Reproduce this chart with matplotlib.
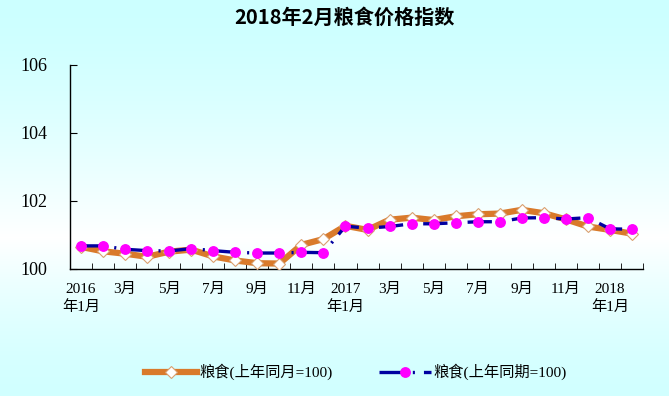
import numpy as np
import matplotlib
matplotlib.use('Agg')
from matplotlib import pyplot as plt

plt.rcParams['font.family'] = ['Liberation Serif', 'Noto Sans CJK SC']
plt.rcParams['lines.scale_dashes'] = False

# monthly index, Jan 2016 .. Feb 2018
months = list(range(26))
tick_labels = ['2016\n年1月', '3月', '5月', '7月', '9月', '11月',
               '2017\n年1月', '3月', '5月', '7月', '9月', '11月',
               '2018\n年1月']

same_month = [100.65, 100.52, 100.45, 100.36, 100.51, 100.57, 100.37, 100.25,
              100.17, 100.16, 100.71, 100.88, 101.27, 101.15, 101.45, 101.51,
              101.44, 101.55, 101.61, 101.63, 101.74, 101.64, 101.46, 101.25,
              101.15, 101.04]
same_period = [100.68, 100.68, 100.58, 100.54, 100.53, 100.60, 100.54, 100.49,
               100.47, 100.47, 100.49, 100.48, 101.26, 101.20, 101.25, 101.33,
               101.33, 101.36, 101.39, 101.39, 101.50, 101.51, 101.47, 101.51,
               101.18, 101.17]

orange = '#D97A2B'
navy = '#0000A0'
pink = '#FF00FF'

fig = plt.figure(figsize=(6.69, 3.96), dpi=100)

# background gradient: cyan top, white middle, light cyan bottom
bg = fig.add_axes([0, 0, 1, 1], zorder=-10)
rows = np.linspace(0, 1, 396)
mid = 0.6
w = np.where(rows < mid, rows / mid, 1 - (rows - mid) / (1 - mid))
top = np.array([0.80, 1.0, 1.0])
bot = np.array([0.82, 1.0, 1.0])
white = np.array([1.0, 1.0, 1.0])
grad = np.zeros((396, 1, 3))
for i in range(396):
    base = top if rows[i] < mid else bot
    grad[i, 0] = base + (white - base) * (w[i] ** 1.5)
bg.imshow(grad, aspect='auto', extent=[0, 1, 0, 1])
bg.axis('off')

ax = fig.add_axes([70 / 669, 1 - 269 / 396, 573 / 669, 204 / 396])
ax.set_facecolor('none')

ax.plot(months, same_month, color=orange, lw=4.5, marker='D', ms=6.5,
        mfc='white', mec='#D9A070', mew=0.8, zorder=3,
        label='粮食(上年同月=100)')
ax.plot(months, same_period, color=navy, lw=2.4, ls=(0, (17.5, 6.5, 1.5, 6.5)),
        dash_capstyle='butt', marker='o', ms=6.8, mfc=pink, mec=pink,
        zorder=4, label='粮食(上年同期=100)')

ax.set_xlim(-0.5, 25.5)
ax.set_ylim(100, 106)
ax.set_yticks([100, 102, 104, 106])
ax.tick_params(axis='y', direction='in', length=5, pad=16, labelsize=13,
               color='black')
ax.set_xticks(months[::2])
ax.set_xticklabels(tick_labels, linespacing=1.35)
ax.set_xticks(np.arange(0.5, 26, 1), minor=True)
ax.tick_params(axis='x', which='major', length=0, pad=10, labelsize=11)
ax.tick_params(axis='x', which='minor', direction='in', length=4)

for s in ['top', 'right']:
    ax.spines[s].set_visible(False)
for s in ['left', 'bottom']:
    ax.spines[s].set_linewidth(1)

fig.text(0.515, 1 - 17 / 396, '2018年2月粮食价格指数', ha='center', va='center',
         fontsize=14.5, fontweight='bold', family=['Noto Sans CJK SC'])

handles, labels = ax.get_legend_handles_labels()
fig.legend(handles, labels, loc='center', bbox_to_anchor=(0.532, 1 - 372 / 396),
           ncol=2, frameon=False, fontsize=11, handlelength=3.4,
           columnspacing=3.0, handletextpad=0.2)

fig.savefig('out.png', dpi=100)
